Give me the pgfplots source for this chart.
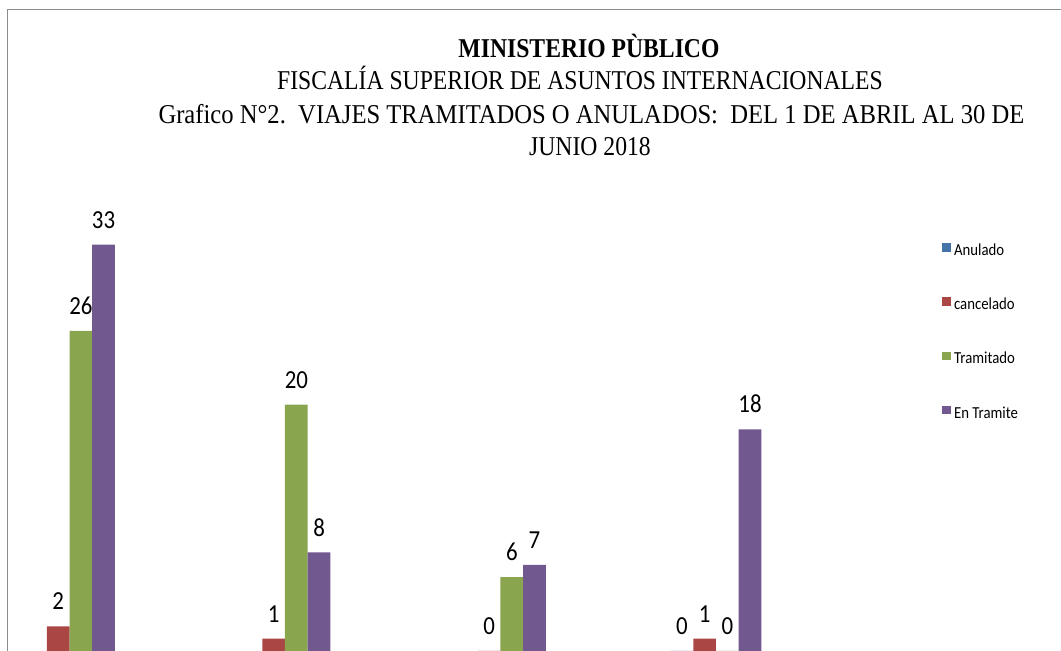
\documentclass[border=0pt]{standalone}
\usepackage{pgfplots}
\pgfplotsset{compat=1.18}
\usepackage{fontspec}
\setmainfont{Liberation Serif}
\newfontfamily\ttl[FakeStretch=0.87]{Liberation Serif}
\newfontfamily\ttlw[FakeStretch=0.905]{Liberation Serif}
\newfontfamily\lbl[FakeStretch=0.88]{Carlito}
\definecolor{cA}{HTML}{4572A7}
\definecolor{cC}{HTML}{AA4643}
\definecolor{cT}{HTML}{89A54E}
\definecolor{cE}{HTML}{71588F}
\begin{document}
\begin{tikzpicture}
\begin{axis}[
  at={(0,0)}, anchor=south west,
  scale only axis, width=530.5pt, height=325.5pt,
  hide axis,
  xmin=-0.3225, xmax=4.601, ymin=0, ymax=52.86,
  ybar=0pt, bar width=11.35pt,
  /pgf/number format/assume math mode=true,
  nodes near coords,
  nodes near coords style={font=\lbl\fontsize{13}{13}\selectfont, anchor=base, yshift=8.2pt, inner sep=0pt, text=black},
  legend style={at={(axis description cs:941.7/1061,1-243/651)}, anchor=north west,
    draw=none, fill=none, inner sep=0pt, row sep=18.85pt, column sep=1.8pt,
    font=\lbl\fontsize{8.4}{8.4}\selectfont,
    nodes={inner sep=0pt, text height=6pt, text depth=2pt}},
  legend cell align=left,
  legend image code/.code={\fill[#1] (0pt,0pt) rectangle (4.2pt,4.2pt);},
]
\addplot[fill=cA, draw=none] coordinates {(3,0)};
\addplot[fill=cC, draw=none] coordinates {(0,2) (1,1) (2,0) (3,1)};
\addplot[fill=cT, draw=none] coordinates {(0,26) (1,20) (2,6) (3,0)};
\addplot[fill=cE, draw=none] coordinates {(0,33) (1,8) (2,7) (3,18)};
\legend{Anulado, cancelado, Tramitado, En Tramite}
\draw[line width=0.85pt, color=black!45] (axis description cs:7.5/1061,0) -- (axis description cs:7.5/1061,1-9.5/651) -- (axis description cs:1,1-9.5/651);
\node[anchor=base, font=\ttl\bfseries\fontsize{13.6}{13.6}\selectfont] at (axis description cs:589/1061,1-58/651) {MINISTERIO PÙBLICO};
\node[anchor=base, font=\ttl\fontsize{13.6}{13.6}\selectfont] at (axis description cs:580/1061,1-90/651) {FISCALÍA SUPERIOR DE ASUNTOS INTERNACIONALES};
\node[anchor=base, font=\ttlw\fontsize{13.6}{13.6}\selectfont] at (axis description cs:591.5/1061,1-123.3/651) {Grafico N°2.\ \ VIAJES TRAMITADOS O ANULADOS:\ \ DEL 1 DE ABRIL AL 30 DE};
\node[anchor=base, font=\ttl\fontsize{13.6}{13.6}\selectfont] at (axis description cs:590/1061,1-156/651) {JUNIO 2018};
\end{axis}
\pgfresetboundingbox
\path (0,0) rectangle (530.5pt,325.5pt);
\end{tikzpicture}
\end{document}
